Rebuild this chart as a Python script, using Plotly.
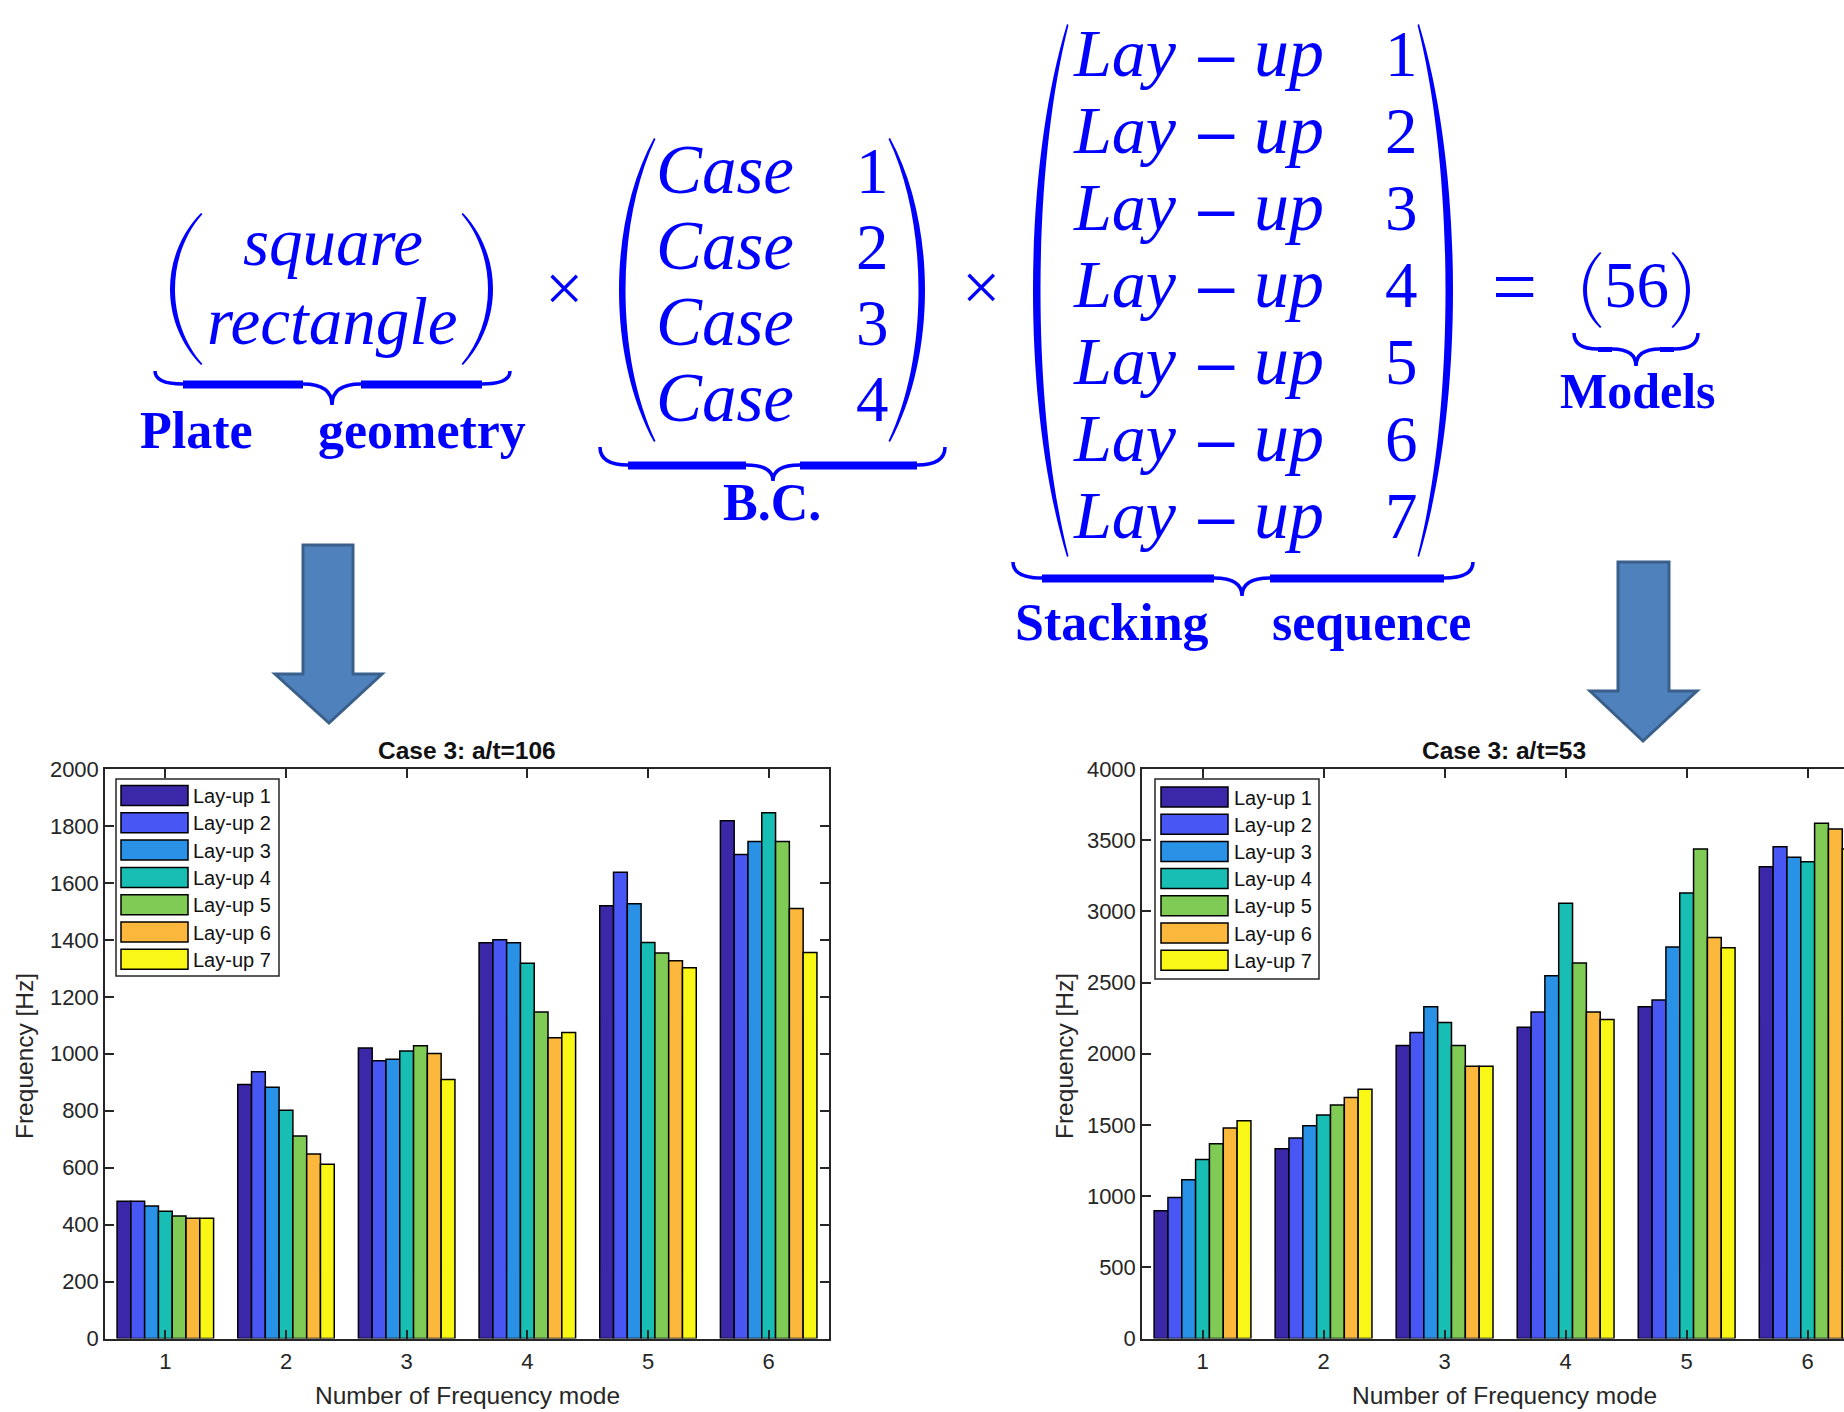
import plotly.graph_objects as go

# ---------------- data ----------------
modes = [1, 2, 3, 4, 5, 6]
layup_names = ["Lay-up 1", "Lay-up 2", "Lay-up 3", "Lay-up 4", "Lay-up 5", "Lay-up 6", "Lay-up 7"]
layup_colors = ["#3B28A8", "#4856F4", "#2A92E6", "#18BEB3", "#80CB56", "#FCB83C", "#F8F715"]

# Case 3: a/t = 106  (frequency [Hz] per mode)
at106_layup1 = [482, 892, 1020, 1390, 1520, 1818]
at106_layup2 = [482, 937, 975, 1400, 1637, 1700]
at106_layup3 = [465, 882, 981, 1390, 1527, 1745]
at106_layup4 = [447, 802, 1010, 1318, 1391, 1846]
at106_layup5 = [430, 711, 1028, 1147, 1354, 1745]
at106_layup6 = [422, 648, 1001, 1056, 1327, 1510]
at106_layup7 = [422, 612, 910, 1075, 1302, 1356]

# Case 3: a/t = 53
at53_layup1 = [897, 1332, 2058, 2186, 2330, 3314]
at53_layup2 = [990, 1408, 2150, 2293, 2378, 3454]
at53_layup3 = [1115, 1494, 2330, 2548, 2750, 3380]
at53_layup4 = [1257, 1570, 2220, 3057, 3129, 3349]
at53_layup5 = [1367, 1640, 2058, 2638, 3438, 3619]
at53_layup6 = [1478, 1692, 1912, 2293, 2817, 3578]
at53_layup7 = [1530, 1750, 1912, 2240, 2744, 3438]

left_ticks = [0, 200, 400, 600, 800, 1000, 1200, 1400, 1600, 1800, 2000]
right_ticks = [0, 500, 1000, 1500, 2000, 2500, 3000, 3500, 4000]

geometry_items = ["square", "rectangle"]
bc_items = ["Case", "Case", "Case", "Case"]
bc_numbers = ["1", "2", "3", "4"]
layup_word = ["Lay", "\u2212", "up"]
layup_numbers = ["1", "2", "3", "4", "5", "6", "7"]
models_count = "56"

at106_series = [at106_layup1, at106_layup2, at106_layup3, at106_layup4,
                at106_layup5, at106_layup6, at106_layup7]
at53_series = [at53_layup1, at53_layup2, at53_layup3, at53_layup4,
               at53_layup5, at53_layup6, at53_layup7]

# ---------------- helpers ----------------
W, H = 1844, 1412
BLUE = "#0000ff"
AXC = "#262626"


def X(px):
    return px / W


def Y(py):
    return 1 - py / H


def P(x, y):
    return f"{X(x):.5f},{Y(y):.5f}"


annotations = []
shapes = []


def text(s, x, y, size, family="Liberation Serif", color=BLUE, style="normal",
         weight="normal", xanchor="center", angle=0):
    annotations.append(dict(
        text=s, x=X(x), y=Y(y), xref="paper", yref="paper", showarrow=False,
        xanchor=xanchor, yanchor="middle", textangle=angle, borderpad=0,
        font=dict(family=family, size=size, color=color, style=style, weight=weight)))


def serif_base(s, x, base, size, **kw):
    text(s, x, base - 0.3375 * size, size, **kw)


def paren(x_out, x_end, y0, y1, thick, f=0.28):
    h = y1 - y0
    sgn = 1 if x_out < x_end else -1
    a = (x_out - 0.25 * x_end) / 0.75
    e2 = x_end + 1.5 * sgn
    inner = x_out + thick * sgn
    a2 = (inner - 0.25 * e2) / 0.75
    path = (f"M{P(x_end, y0)} C{P(a, y0 + f * h)} {P(a, y1 - f * h)} {P(x_end, y1)} "
            f"L{P(e2, y1 - 1)} C{P(a2, y1 - f * h)} {P(a2, y0 + f * h)} {P(e2, y0 + 1)} Z")
    shapes.append(dict(type="path", path=path, xref="paper", yref="paper",
                       fillcolor=BLUE, line=dict(width=0)))


def brace(xl, xr, y_end, y_bar, y_tip, xt, c=28, c2=28, thick=9, lw=3.5):
    path = (f"M{P(xl, y_end)} Q{P(xl, y_bar)} {P(xl + c, y_bar)} L{P(xt - c2, y_bar)} "
            f"Q{P(xt, y_bar)} {P(xt, y_tip)} Q{P(xt, y_bar)} {P(xt + c2, y_bar)} "
            f"L{P(xr - c, y_bar)} Q{P(xr, y_bar)} {P(xr, y_end)}")
    shapes.append(dict(type="path", path=path, xref="paper", yref="paper",
                       line=dict(color=BLUE, width=lw)))
    for a, b in [(xl + c, xt - c2), (xt + c2, xr - c)]:
        if b > a:
            shapes.append(dict(type="rect", xref="paper", yref="paper",
                               x0=X(a), x1=X(b), y0=Y(y_bar + thick / 2), y1=Y(y_bar - thick / 2 + 1),
                               fillcolor=BLUE, line=dict(width=0)))


def block_arrow(sx0, sx1, stop, htop, hx0, hx1, tipx, tipy):
    path = (f"M{P(sx0, stop)} L{P(sx1, stop)} L{P(sx1, htop)} L{P(hx1, htop)} "
            f"L{P(tipx, tipy)} L{P(hx0, htop)} L{P(sx0, htop)} Z")
    shapes.append(dict(type="path", path=path, xref="paper", yref="paper",
                       fillcolor="#4F81BD", line=dict(color="#3A5F8B", width=3)))


LBL = 52  # bold label size

# ---------------- formula ----------------
# geometry
paren(170, 201, 213, 365, 5)
paren(493, 463, 213, 365, 5)
serif_base(geometry_items[0], 333, 265, 67, style="italic")
serif_base(geometry_items[1], 332, 344, 67, style="italic")
brace(155, 510, 371, 384, 405, 332, c=28, c2=29)
serif_base("Plate", 196, 448, LBL, weight="bold")
serif_base("geometry", 422, 448, LBL, weight="bold")

text("\u00d7", 564, 288, 68)

# boundary conditions
paren(619, 654, 138, 442, 6.5)
paren(925, 890, 138, 442, 6.5)
for i in range(4):
    base = 193 + 76 * i
    serif_base(bc_items[i], 725, base, 69, style="italic")
    serif_base(bc_numbers[i], 872, base, 65)
brace(600, 945, 447, 465, 481, 773, c=28, c2=27)
serif_base("B.C.", 772, 520, LBL, weight="bold")

text("\u00d7", 981, 287, 68)

# stacking sequence
paren(1033, 1067, 24, 557, 7.5)
paren(1453, 1419, 24, 557, 7.5)
for i in range(7):
    base = 76 + 77 * i
    serif_base(layup_word[0], 1125, base, 68, style="italic")
    text(layup_word[1], 1216, base - 17.8, 58, family="DejaVu Serif")
    serif_base(layup_word[2], 1289, base, 70, style="italic")
    serif_base(layup_numbers[i], 1401, base, 65)
brace(1013, 1473, 562, 578, 596, 1242, c=29, c2=28)
serif_base("Stacking", 1112, 640, LBL, weight="bold")
serif_base("sequence", 1371, 640, LBL, weight="bold")

text("=", 1514, 287, 80)

# models
paren(1583, 1600, 252, 328, 4)
paren(1690, 1673, 252, 328, 4)
serif_base(models_count, 1636, 307, 65)
brace(1574, 1698, 333, 349, 366, 1636, c=24, c2=24, thick=6, lw=3.5)
serif_base("Models", 1638, 408, 50, weight="bold")

# arrows
block_arrow(303, 353, 545, 674, 275, 382, 329, 723)
block_arrow(1618, 1669, 562, 691, 1590, 1697, 1643, 741)

# ---------------- charts ----------------
fig = go.Figure()
for name, col, vals in zip(layup_names, layup_colors, at106_series):
    fig.add_trace(go.Bar(x=modes, y=vals, name=name, marker=dict(color=col, line=dict(color="#000000", width=1.5)),
                         xaxis="x", yaxis="y", showlegend=False))
for name, col, vals in zip(layup_names, layup_colors, at53_series):
    fig.add_trace(go.Bar(x=modes, y=vals, name=name, marker=dict(color=col, line=dict(color="#000000", width=1.5)),
                         xaxis="x2", yaxis="y2", showlegend=False))

ax_common = dict(showline=True, linecolor=AXC, linewidth=1.5, ticks="inside", ticklen=9,
                 tickwidth=1.5, tickcolor=AXC, showgrid=False, zeroline=False, automargin=False,
                 tickfont=dict(family="Liberation Sans", size=22, color=AXC))

PLOT_TOP, PLOT_BOT = 769, 1338.5
fig.update_layout(
    xaxis=dict(domain=[X(105), X(829)], range=[0.5, 6.5], tickvals=modes, mirror="ticks",
               anchor="y", ticklabelstandoff=2, **ax_common),
    yaxis=dict(domain=[Y(PLOT_BOT), Y(PLOT_TOP)], range=[0, 2000], tickvals=left_ticks, mirror="ticks",
               anchor="x", ticklabelstandoff=0, **ax_common),
    xaxis2=dict(domain=[X(1142), 1.0], range=[0.5, 6.30], tickvals=modes, mirror="ticks",
                anchor="y2", ticklabelstandoff=2, **ax_common),
    yaxis2=dict(domain=[Y(PLOT_BOT), Y(PLOT_TOP)], range=[0, 4000], tickvals=right_ticks, mirror=False,
                anchor="x2", ticklabelstandoff=0, **ax_common),
)

# titles and axis labels
SANS = "Liberation Sans"
text("Case 3: a/t=106", 467, 750, 24.5, family=SANS, color="#111111", weight="bold")
text("Case 3: a/t=53", 1504, 750, 24.5, family=SANS, color="#111111", weight="bold")
text("Number of Frequency mode", 467, 1395, 24.5, family=SANS, color=AXC)
text("Number of Frequency mode", 1504, 1395, 24.5, family=SANS, color=AXC)
text("Frequency [Hz]", 24, 1056, 24.5, family=SANS, color=AXC, angle=-90)
text("Frequency [Hz]", 1064, 1056, 24.5, family=SANS, color=AXC, angle=-90)


# legends (drawn as boxes + swatches)
def legend(bx0, bx1, by0, by1, sx0, sx1, cy0, step, tx):
    shapes.append(dict(type="rect", xref="paper", yref="paper", x0=X(bx0), x1=X(bx1),
                       y0=Y(by1), y1=Y(by0), fillcolor="white", line=dict(color=AXC, width=1.5), layer="above"))
    for i, (name, col) in enumerate(zip(layup_names, layup_colors)):
        cy = cy0 + step * i
        shapes.append(dict(type="rect", xref="paper", yref="paper", x0=X(sx0), x1=X(sx1),
                           y0=Y(cy + 10), y1=Y(cy - 10), fillcolor=col,
                           line=dict(color="#000000", width=1.5), layer="above"))
        text(name, tx, cy + 0.5, 20, family=SANS, color="#111111", xanchor="left")


legend(116, 279, 779, 976, 121, 188, 795.5, 27.3, 192)
legend(1155, 1319, 779, 979, 1161, 1228, 797, 27.2, 1233)

fig.update_layout(
    width=W, height=H, autosize=False,
    margin=dict(l=0, r=0, t=0, b=0),
    paper_bgcolor="white", plot_bgcolor="white",
    barmode="group", bargap=0.2, bargroupgap=0.0,
    showlegend=False,
    annotations=annotations, shapes=shapes,
)

fig.write_html("out.html")
